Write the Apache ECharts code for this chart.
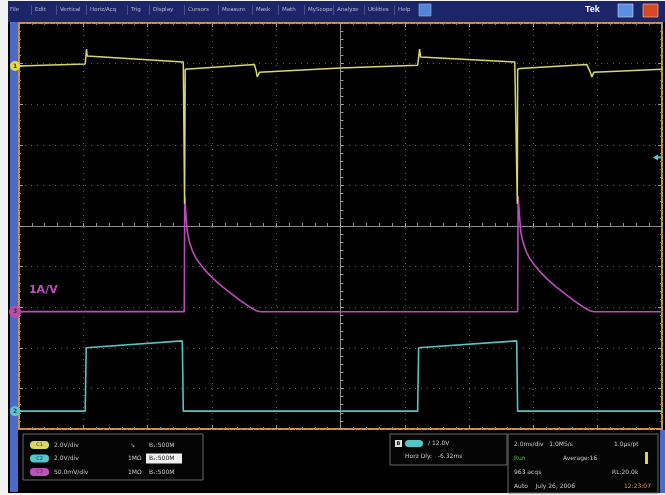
<!DOCTYPE html>
<html><head><meta charset="utf-8">
<script src="https://cdn.jsdelivr.net/npm/echarts@6/dist/echarts.min.js"></script>
<style>html,body{margin:0;padding:0;background:#f2f2f2}#c{width:665px;height:495px}</style>
</head><body><div id="c"></div>
<script>
// Time in ms (2 ms/div, 10 divisions), vertical in screen divisions (-5..5)
const yellowT = [-10,-7.94,-7.91,-7.90,-7.88,-4.89,-4.86,-4.85,-4.83,-4.77,-2.68,-2.62,-2.59,-2.52,0,2.40,2.43,2.46,2.49,5.42,5.48,5.50,5.51,5.58,7.66,7.76,7.82,7.88,10];
const yellowV = [3.94,3.99,3.99,4.36,4.19,4.04,4.01,0.55,3.86,3.86,3.98,3.81,3.67,3.79,3.89,3.96,3.99,4.36,4.16,4.04,4.01,0.55,3.86,3.88,3.98,3.81,3.67,3.79,3.86];
const magentaT = [-10,-4.86,-4.845,-4.798,-4.766,-4.704,-4.611,-4.486,-4.330,-4.143,-3.925,-3.676,-3.396,-3.115,-2.835,-2.617,-2.492,
                  5.51,5.525,5.576,5.607,5.670,5.763,5.888,6.044,6.231,6.449,6.698,6.978,7.259,7.539,7.757,7.882,10];
const magentaV = [-2.11,-2.11,0.73,0.16,-0.136,-0.383,-0.605,-0.803,-0.975,-1.148,-1.321,-1.494,-1.667,-1.840,-1.988,-2.086,-2.111,
                  -2.111,0.73,0.16,-0.136,-0.383,-0.605,-0.803,-0.975,-1.148,-1.321,-1.494,-1.667,-1.840,-1.988,-2.086,-2.111,-2.111];
const cyanT = [-10,-7.94,-7.91,-4.92,-4.89,2.40,2.43,5.48,5.51,10];
const cyanV = [-4.56,-4.56,-3.00,-2.83,-4.56,-4.56,-3.00,-2.83,-4.56,-4.56];
const triggerLevel = 1.69;
const menuItems = ["File","Edit","Vertical","Horiz/Acq","Trig","Display","Cursors","Measure","Mask","Math","MyScope","Analyze","Utilities","Help"];
const chanRows = [
  {name:"C1", scale:"2.0V/div", imp:"", bw:"B\u2093:500M", color:"#d8d860"},
  {name:"C2", scale:"2.0V/div", imp:"1M\u03A9", bw:"B\u2093:500M", color:"#50c8c8"},
  {name:"C3", scale:"50.0mV/div", imp:"1M\u03A9", bw:"B\u2093:500M", color:"#c050c0"}
];

const zip = (a,b)=>a.map((v,i)=>[v,b[i]]);
const chart = echarts.init(document.getElementById('c'));
const gridCol = '#5e5e5e';
const tickAxis = (pos)=>({type:'value', min:-10, max:10, interval:2, position:pos,
  axisLine:{show:false, onZero:false}, axisLabel:{show:false}, splitLine:{show:false},
  axisTick:{show:true, inside:true, length:4, lineStyle:{color:'#999'}},
  minorTick:{show:true, splitNumber:5, length:2, lineStyle:{color:'#888'}}});
const tickYAxis = (pos)=>({type:'value', min:-5, max:5, interval:1, position:pos,
  axisLine:{show:false, onZero:false}, axisLabel:{show:false}, splitLine:{show:false},
  axisTick:{show:true, inside:true, length:4, lineStyle:{color:'#999'}},
  minorTick:{show:true, splitNumber:5, length:2, lineStyle:{color:'#888'}}});

const option = {
  backgroundColor:'#f2f2f2',
  animation:false,
  grid:{left:19, right:3, top:23, bottom:66, show:true, backgroundColor:'#000', borderColor:'#d2914a', borderWidth:2},
  xAxis:[
    {type:'value', min:-10, max:10, interval:2,
     axisLine:{show:true, onZero:true, lineStyle:{color:'#8a8a8a', width:1}},
     axisTick:{show:true, inside:true, length:3, lineStyle:{color:'#aaa'}},
     minorTick:{show:true, splitNumber:5, length:3, lineStyle:{color:'#999'}},
     axisLabel:{show:false},
     splitLine:{show:true, lineStyle:{color:gridCol, type:[1,5], width:1.2}}},
    tickAxis('top'), tickAxis('bottom')
  ],
  yAxis:[
    {type:'value', min:-5, max:5, interval:1,
     axisLine:{show:true, onZero:true, lineStyle:{color:'#8a8a8a', width:1}},
     axisTick:{show:true, inside:true, length:3, lineStyle:{color:'#aaa'}},
     minorTick:{show:true, splitNumber:5, length:3, lineStyle:{color:'#999'}},
     axisLabel:{show:false},
     splitLine:{show:true, lineStyle:{color:gridCol, type:[1,5], width:1.2}}},
    tickYAxis('left'), tickYAxis('right')
  ],
  series:[
    {type:'line', data:zip(cyanT,cyanV), showSymbol:false, lineStyle:{color:'#55c4c4', width:1.6}, z:3},
    {type:'line', data:zip(magentaT,magentaV), showSymbol:false, lineStyle:{color:'#bb4cbb', width:1.6}, z:3},
    {type:'line', data:zip(yellowT,yellowV), showSymbol:false, lineStyle:{color:'#d9d86a', width:1.5}, z:4}
  ]
};
chart.setOption(option);

function px(t,v){ return chart.convertToPixel({xAxisIndex:0, yAxisIndex:0}, [t,v]); }
const g = [];
g.push({type:'rect', shape:{x:8,y:1,width:657,height:21}, style:{fill:'#1c2568'}, z:0});
g.push({type:'rect', shape:{x:8,y:22,width:657,height:471}, style:{fill:'#000'}, z:-1});
g.push({type:'rect', shape:{x:10,y:22,width:8,height:470}, style:{fill:'#4a6bc8'}, z:1});
g.push({type:'rect', shape:{x:660,y:430,width:5,height:63}, style:{fill:'#4a6bc8'}, z:1});
// menu
const menuX = [10,35,60,90,131,153,188,222,256,282,308,337,368,398];
menuItems.forEach((m,i)=>{
  g.push({type:'text', style:{text:m, x:menuX[i], y:7, fill:'#b8bcd8', font:'5.5px "DejaVu Sans"'}, z:2});
  if(i>0) g.push({type:'rect', shape:{x:menuX[i]-4,y:5,width:0.6,height:10}, style:{fill:'#6a70a0'}, z:2});
});
g.push({type:'rect', shape:{x:419,y:4,width:12,height:12}, style:{fill:'#4f86d8', stroke:'#9bc', lineWidth:0.6}, z:2});
g.push({type:'text', style:{text:'Tek', x:585, y:5, fill:'#fff', font:'bold 9px "Liberation Sans"'}, z:2});
g.push({type:'rect', shape:{x:618,y:4,width:15,height:13}, style:{fill:'#5a90e0', stroke:'#cde', lineWidth:0.6}, z:2});
g.push({type:'rect', shape:{x:643,y:4,width:15,height:13}, style:{fill:'#d84828', stroke:'#fca', lineWidth:0.6}, z:2});

// channel markers
const yb = px(-10, yellowV[0]), mb = px(-10, magentaV[0]), cb = px(-10, cyanV[0]);
[[yb,'#e2dc40','1',5],[mb,'#c04ab0','3',6],[cb,'#56c8d0','2',5]].forEach(([p,c,l,r])=>{
  g.push({type:'polygon', shape:{points:[[14,p[1]-3],[23,p[1]],[14,p[1]+3]]}, style:{fill:c}, z:5});
  g.push({type:'circle', shape:{cx:15, cy:p[1], r:r}, style:{fill:c}, z:5});
  g.push({type:'text', style:{text:l, x:15, y:p[1], fill:'#333', font:'bold 6px "DejaVu Sans"', align:'center', verticalAlign:'middle'}, z:6});
});
const tp = px(10, triggerLevel);
g.push({type:'polygon', shape:{points:[[tp[0]-9,tp[1]],[tp[0]-4,tp[1]-3],[tp[0]-4,tp[1]+3]]}, style:{fill:'#56c8d0'}, z:5});
g.push({type:'rect', shape:{x:tp[0]-5,y:tp[1]-1,width:4,height:2}, style:{fill:'#56c8d0'}, z:5});
const lp = px(-9.69, -1.57);
g.push({type:'text', style:{text:'1A/V', x:lp[0], y:lp[1], fill:'#c050c0', font:'bold 11px "DejaVu Sans"', verticalAlign:'middle'}, z:5});

// bottom readouts
const boxStyle = {fill:'#050505', stroke:'#6a6a6a', lineWidth:1};
g.push({type:'rect', shape:{x:23,y:434,width:180,height:46}, style:boxStyle, z:2});
chanRows.forEach((r,i)=>{
  const y = 445 + i*13.5;
  g.push({type:'rect', shape:{x:30,y:y-4,width:19,height:8,r:4}, style:{fill:r.color}, z:3});
  g.push({type:'text', style:{text:r.name, x:39.5, y:y, fill:'#333', font:'5px "DejaVu Sans"', align:'center', verticalAlign:'middle'}, z:4});
  g.push({type:'text', style:{text:r.scale, x:54, y:y, fill:'#c8c8c8', font:'6px "DejaVu Sans"', verticalAlign:'middle'}, z:3});
  g.push({type:'text', style:{text:r.imp || '\u2198', x:r.imp?128:130, y:y, fill:'#c8c8c8', font:'6px "DejaVu Sans"', verticalAlign:'middle'}, z:3});
  if(i===1) g.push({type:'rect', shape:{x:146,y:y-5,width:36,height:10}, style:{fill:'#f0f0f0'}, z:3});
  g.push({type:'text', style:{text:r.bw, x:149, y:y, fill:i===1?'#111':'#c8c8c8', font:'6px "DejaVu Sans"', verticalAlign:'middle'}, z:4});
});
g.push({type:'rect', shape:{x:390,y:434,width:117,height:31}, style:boxStyle, z:2});
g.push({type:'rect', shape:{x:395,y:440,width:7,height:7}, style:{fill:'#ddd'}, z:3});
g.push({type:'text', style:{text:'B', x:398.5, y:443.5, fill:'#111', font:'bold 5px "DejaVu Sans"', align:'center', verticalAlign:'middle'}, z:4});
g.push({type:'rect', shape:{x:405,y:440,width:18,height:7,r:3.5}, style:{fill:'#50c8c8'}, z:3});
g.push({type:'text', style:{text:'/ 12.0V', x:428, y:443.5, fill:'#c8c8c8', font:'6px "DejaVu Sans"', verticalAlign:'middle'}, z:3});
g.push({type:'text', style:{text:'Horz Dly:   -6.32ms', x:405, y:456, fill:'#c8c8c8', font:'6px "DejaVu Sans"', verticalAlign:'middle'}, z:3});
g.push({type:'rect', shape:{x:508,y:434,width:150,height:59}, style:boxStyle, z:2});
const rt = [
  ['2.0ms/div   1.0MS/s', 514, 444, '#c8c8c8'], ['1.0\u03bcs/pt', 614, 444, '#c8c8c8'],
  ['Run', 514, 458, '#3ec83e'], ['Average:16', 563, 458, '#c8c8c8'],
  ['963 acqs', 514, 472, '#c8c8c8'], ['RL:20.0k', 612, 472, '#c8c8c8'],
  ['Auto    July 26, 2006', 514, 486, '#c8c8c8'], ['12:23:07', 624, 486, '#e08a40']
];
rt.forEach(([t,x,y,c])=>g.push({type:'text', style:{text:t, x:x, y:y, fill:c, font:'6px "DejaVu Sans"', verticalAlign:'middle'}, z:3}));
g.push({type:'rect', shape:{x:645,y:452,width:3,height:12}, style:{fill:'#d8d840'}, z:3});
chart.setOption({graphic:g});
</script></body></html>
